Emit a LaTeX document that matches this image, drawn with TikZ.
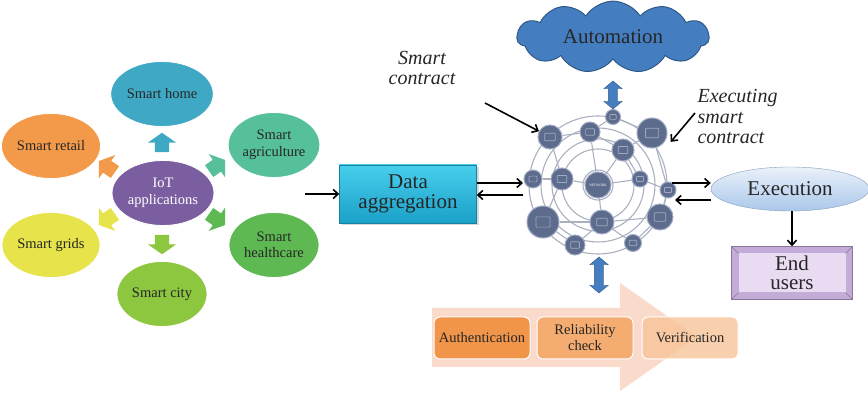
\documentclass[tikz,border=0pt]{standalone}
\usepackage{fontspec}
\setmainfont{Liberation Serif}
\usepackage{xcolor}
\usepackage{tikz}
\usetikzlibrary{arrows.meta,positioning,calc,shapes.geometric,shapes.arrows,shapes.symbols,shadows}
\definecolor{cHome}{RGB}{63,169,197}
\definecolor{cAgri}{RGB}{86,192,154}
\definecolor{cHealth}{RGB}{94,185,82}
\definecolor{cCity}{RGB}{141,198,63}
\definecolor{cGrid}{RGB}{230,228,74}
\definecolor{cRetail}{RGB}{243,154,74}
\definecolor{cIoT}{RGB}{123,94,160}
\definecolor{cAggTop}{RGB}{72,206,236}
\definecolor{cAggBot}{RGB}{27,160,200}
\definecolor{cCloud}{RGB}{68,126,192}
\definecolor{cNet}{RGB}{93,108,140}
\definecolor{cNetEdge}{RGB}{160,170,196}
\definecolor{cRing}{RGB}{170,176,192}
\definecolor{cExec}{RGB}{170,199,234}
\definecolor{cUser}{RGB}{232,219,242}
\definecolor{cUserEdge}{RGB}{196,172,216}
\definecolor{cAuth}{RGB}{240,149,74}
\definecolor{cRel}{RGB}{244,172,112}
\definecolor{cVer}{RGB}{247,196,152}
\definecolor{cBand}{RGB}{250,218,203}
\tikzset{
  app/.style={ellipse, draw=white, line width=0.8pt, minimum width=90pt, minimum height=65pt, inner sep=1pt, align=center, font=\fontsize{14.5}{16.5}\selectfont, text=black!85},
  spoke/.style={single arrow, inner sep=7pt, single arrow head extend=7pt, single arrow tip angle=110, minimum height=16pt},
  arr/.style={-{Straight Barb[length=5pt,width=9pt]}, line width=1.6pt, black},
  big/.style={font=\fontsize{21}{19.5}\selectfont, align=center, text=black!85},
  note/.style={font=\itshape\fontsize{20}{20.5}\selectfont, text=black!85},
  netdot/.style={circle, fill=cNet, draw=cNetEdge, line width=1pt, inner sep=0pt,
    path picture={\draw[cNetEdge, line width=0.7pt, rounded corners=0.8pt]
      ([shift={(-0.22*\pgfkeysvalueof{/pgf/minimum width},-0.16*\pgfkeysvalueof{/pgf/minimum width})}]path picture bounding box.center)
      rectangle ([shift={(0.22*\pgfkeysvalueof{/pgf/minimum width},0.16*\pgfkeysvalueof{/pgf/minimum width})}]path picture bounding box.center);}},
  hubdot/.style={circle, fill=cNet, draw=cNetEdge, line width=1pt, inner sep=0pt},
  netlink/.style={cRing, line width=1.1pt},
  updown/.style={double arrow, inner sep=4.5pt, double arrow head extend=4.5pt, double arrow tip angle=100, fill=cCloud, draw=cCloud!70!black, rotate=90},
  stage/.style={rounded corners=6pt, draw=white, line width=1pt, minimum width=96pt, minimum height=42pt, align=center, font=\fontsize{14.5}{16}\selectfont, text=black!85},
}
\begin{document}
\begin{tikzpicture}[x=1pt, y=-1pt]
  \useasboundingbox (0,0) rectangle (868,395);

  % IoT application wheel
  \node[app, fill=cIoT, text=white] (iot) at (163,193) {IoT\\applications};
  \node[app, fill=cHome] (home) at (162,94) {Smart home};
  \node[app, fill=cAgri] (agri) at (274,145) {Smart\\agriculture};
  \node[app, fill=cHealth] (health) at (274,245) {Smart\\healthcare};
  \node[app, fill=cCity] (city) at (162,294) {Smart city};
  \node[app, fill=cGrid] (grid) at (51,245) {Smart grids};
  \node[app, fill=cRetail] (retail) at (51,146) {Smart retail};
  \node[spoke, fill=cHome, rotate=90] (toHome) at (162,145) {};
  \node[spoke, fill=cAgri, rotate=35] (toAgri) at (215,167) {};
  \node[spoke, fill=cHealth, rotate=-35] (toHealth) at (215,218) {};
  \node[spoke, fill=cCity, rotate=-90] (toCity) at (162,242) {};
  \node[spoke, fill=cGrid, rotate=215] (toGrid) at (109,218) {};
  \node[spoke, fill=cRetail, rotate=145] (toRetail) at (109,168) {};

  % aggregation
  \node[big, draw=cAggBot!80!black, top color=cAggTop, bottom color=cAggBot, minimum width=137pt, minimum height=58pt,
        drop shadow={opacity=0.3, shadow xshift=2pt, shadow yshift=-2pt}] (agg) at (408,194) {Data\\aggregation};
  \coordinate (feed) at (305,194);
  \draw[arr] (feed) -- (agg.west);

  % blockchain network
  \coordinate (hub) at (598,185);
  \foreach \r in {15,36,46,57,69}
    \draw[netlink] (hub) circle[radius=\r pt];
  \foreach \x/\y/\s/\n in {613/117/15/n1, 550/137/24/n2, 590/132/20/n3, 652/133/30/n4, 623/150/22/n5,
      533/179/18/n6, 562/179/22/n7, 640/179/16/n8, 668/190/16/n9, 543/222/32/n10,
      602/222/24/n11, 660/217/26/n12, 575/245/20/n13, 633/243/17/n14}
    \node[netdot, minimum size=\s pt] (\n) at (\x,\y) {};
  \foreach \a/\b in {n7/n6, n7/n2, n2/n3, n3/n1, n1/n4, n5/n4, n5/n8, n8/n9, n9/n12, n12/n11,
      n11/n10, n10/n13, n13/n11, n14/n11, n14/n12, n7/n10, n3/n5, n4/n9}
    \draw[netlink] (\a) -- (\b);
  \foreach \b in {n3,n5,n7,n8,n11}
    \draw[netlink] (hub) -- (\b);
  \node[hubdot, minimum size=26pt, font=\fontsize{3.5}{4}\selectfont, text=white] (net) at (hub) {NETWORK};

  \coordinate (netIn) at (523,183);
  \coordinate (netOut) at (523,195);
  \draw[arr] (agg.east |- netIn) -- (netIn);
  \draw[arr] (netOut) -- (agg.east |- netOut);

  % automation cloud
  \node[cloud, cloud puffs=11, cloud puff arc=115, aspect=3, fill=cCloud, draw=cCloud!70!black, line width=1pt,
        minimum width=192pt, minimum height=66pt, big] (auto) at (613,37) {Automation};
  \node[updown, minimum height=28pt] (upA) at (613,95) {};

  % notes
  \node[note, align=center] (sc) at (422,68) {Smart\\contract};
  \coordinate (scTail) at (485,103);
  \draw[arr] (scTail) -- (n2);
  \node[note, align=left, anchor=north west] (esc) at (694,86) {Executing\\smart\\contract};
  \coordinate (escTail) at (695,113);
  \draw[arr] (escTail) -- ([xshift=6pt]n4.-35);

  % execution and users
  \node[ellipse, big, draw=cExec!80!black, top color=cExec!25!white, bottom color=cExec, minimum width=158pt, minimum height=44pt, inner sep=0pt] (exec) at (790,189) {Execution};
  \coordinate (netE1) at (672,183);
  \coordinate (netE2) at (675,200);
  \draw[arr] (netE1) -- (exec.west |- netE1);
  \draw[arr] (exec.west |- netE2) -- (netE2);
  \node[big, fill=cUserEdge, draw=cUserEdge!70!black, minimum width=121pt, minimum height=53pt,
        path picture={
          \fill[cUser] ([shift={(7pt,7pt)}]path picture bounding box.south west) rectangle ([shift={(-7pt,-7pt)}]path picture bounding box.north east);
          \draw[cUserEdge!70!black, line width=0.4pt] ([shift={(7pt,7pt)}]path picture bounding box.south west) -- (path picture bounding box.south west);
          \draw[cUserEdge!70!black, line width=0.4pt] ([shift={(-7pt,-7pt)}]path picture bounding box.north east) -- (path picture bounding box.north east);
          \draw[cUserEdge!70!black, line width=0.4pt] ([shift={(7pt,-7pt)}]path picture bounding box.north west) -- (path picture bounding box.north west);
          \draw[cUserEdge!70!black, line width=0.4pt] ([shift={(-7pt,7pt)}]path picture bounding box.south east) -- (path picture bounding box.south east);
        }] (users) at (792,273) {End\\users};
  \draw[arr] (users.north |- exec.south) -- (users.north);

  % checks along the process band
  \fill[cBand] (432,308) -- (620,308) -- (620,283) -- (697,337) -- (620,391) -- (620,367) -- (432,367) -- cycle;
  \node[updown, minimum height=36pt] (upB) at (599,275) {};
  \node[stage, fill=cAuth] (auth) at (482,338) {Authentication};
  \node[stage, fill=cRel] (rel) at (585,338) {Reliability\\check};
  \node[stage, fill=cVer, fill opacity=0.8, text opacity=1] (ver) at (690,338) {Verification};
\end{tikzpicture}
\end{document}
